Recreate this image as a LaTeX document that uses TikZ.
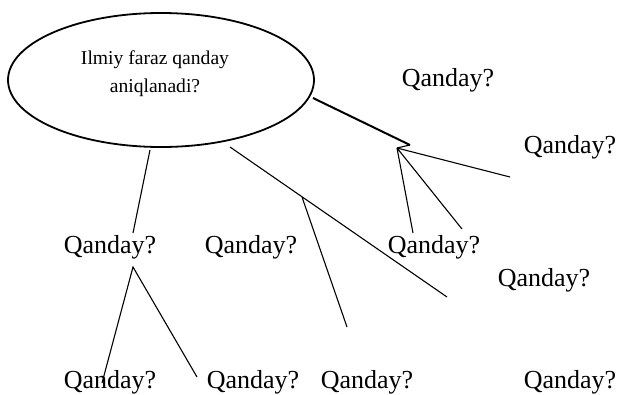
\documentclass[tikz,border=0pt]{standalone}
\usepackage{fontspec}
\setmainfont{Liberation Serif}
\usetikzlibrary{shapes.geometric}
\tikzset{
	savol/.style={inner sep=0pt, font=\fontsize{26}{30}\selectfont},
	bosh/.style={ellipse, draw, line width=1.8pt, minimum width=306pt, minimum height=134pt},
	chiziq/.style={line width=1.1pt},
}
\begin{document}
\begin{tikzpicture}[x=1pt,y=-1pt]
				\useasboundingbox (0,0) rectangle (624,394);
				\node[bosh] (F) at (161,80) {};
				\node[font=\fontsize{19.6}{28}\selectfont, align=center] (Ft) at (155,74) {Ilmiy faraz qanday\\aniqlanadi?};
				\node[savol] (q1) at (448,80) {Qanday?};
				\node[savol] (q2) at (570,147) {Qanday?};
				\node[savol] (q3) at (110,247) {Qanday?};
				\node[savol] (q4) at (251,247) {Qanday?};
				\node[savol] (q5) at (434,247) {Qanday?};
				\node[savol] (q6) at (544,280) {Qanday?};
				\node[savol] (q7) at (110,382) {Qanday?};
				\node[savol] (q8) at (253,382) {Qanday?};
				\node[savol] (q9) at (367,382) {Qanday?};
				\node[savol] (q10) at (570,382) {Qanday?};
				\path
				(313,98) coordinate (A)
				(410,145) coordinate (B)
				(397,148) coordinate (C)
				(510,177) coordinate (D)
				(413,233) coordinate (E)
				(462,229) coordinate (G)
				(230,147) coordinate (H)
				(447,297) coordinate (K)
				(302,197) coordinate (L)
				(347,327) coordinate (M)
				(150,150) coordinate (N)
				(133,233) coordinate (P)
				(133,267) coordinate (R)
				(102,383) coordinate (S)
				(197,377) coordinate (T);
				\draw[line width=2pt] (A)--(B);
				\draw[chiziq] (C)--(B);
				\draw[chiziq] (C)--(D) (C)--(E) (C)--(G);
				\draw[chiziq] (H)--(K) (L)--(M);
				\draw[chiziq] (N)--(P);
				\draw[chiziq] (S)--(R)--(T);
\end{tikzpicture}
\end{document}
